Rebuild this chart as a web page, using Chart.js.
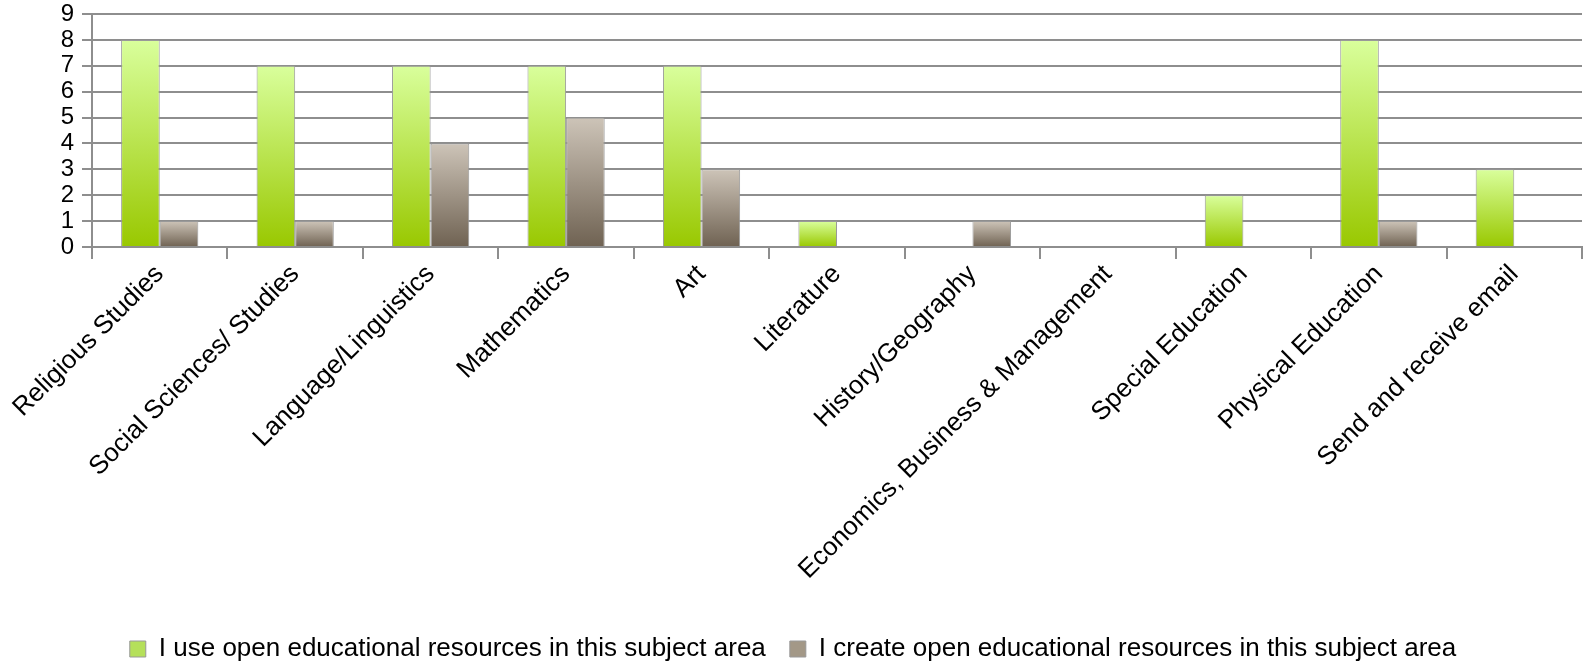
<!DOCTYPE html>
<html>
<head>
<meta charset="utf-8">
<script src="https://cdn.jsdelivr.net/npm/chart.js@4/dist/chart.umd.min.js"></script>
<style>
  html, body { margin: 0; padding: 0; background: #fff; }
  #wrap { width: 1584px; height: 668px; position: relative; }
</style>
</head>
<body>
<div id="wrap"><canvas id="oerChart"></canvas></div>
<script>
// subject areas and counts
const subjects = [
  'Religious Studies', 'Social Sciences/ Studies', 'Language/Linguistics', 'Mathematics', 'Art',
  'Literature', 'History/Geography', 'Economics, Business & Management', 'Special Education',
  'Physical Education', 'Send and receive email'
];
const useValues = [8, 7, 7, 7, 7, 1, 0, 0, 2, 8, 3];
const createValues = [1, 1, 4, 5, 3, 0, 1, 0, 0, 1, 0];
const yTicks = [0, 1, 2, 3, 4, 5, 6, 7, 8, 9];

// each bar gets its own vertical gradient, light at top, dark at the base
function barGradient(top, bottom, fallback) {
  return function (c) {
    const chart = c.chart;
    if (!chart.chartArea || c.raw == null) return fallback;
    const y = chart.scales.y;
    const y0 = y.getPixelForValue(c.raw);
    const y1 = y.getPixelForValue(0);
    if (Math.abs(y1 - y0) < 1) return fallback;
    const g = chart.ctx.createLinearGradient(0, y0, 0, y1);
    g.addColorStop(0, top);
    g.addColorStop(1, bottom);
    return g;
  };
}

const ctx = document.getElementById('oerChart');
new Chart(ctx, {
  type: 'bar',
  data: {
    labels: subjects,
    datasets: [
      {
        label: 'I use open educational resources in this subject area',
        data: useValues,
        backgroundColor: barGradient('#d9ff9c', '#99c800', '#b5e05a'),
        borderColor: '#999999',
        borderWidth: 1
      },
      {
        label: 'I create open educational resources in this subject area',
        data: createValues,
        backgroundColor: barGradient('#cdc4b8', '#6f6252', '#9e9384'),
        borderColor: '#999999',
        borderWidth: 1
      }
    ]
  },
  options: {
    responsive: true,
    maintainAspectRatio: false,
    animation: false,
    // slight negative bottom padding pulls the legend row down to the reference position
    layout: { padding: { top: 14, right: 2, left: 4, bottom: -4 } },
    datasets: { bar: { categoryPercentage: 0.57, barPercentage: 1.0 } },
    plugins: {
      tooltip: { enabled: false },
      legend: {
        position: 'bottom',
        labels: {
          color: '#000',
          font: { family: 'Liberation Sans', size: 26 },
          boxWidth: 16,
          boxHeight: 16,
          padding: 24,
          generateLabels: (chart) => [
            { text: chart.data.datasets[0].label, fillStyle: '#b5e05a', strokeStyle: '#999', lineWidth: 1, datasetIndex: 0 },
            { text: chart.data.datasets[1].label, fillStyle: '#a39887', strokeStyle: '#999', lineWidth: 1, datasetIndex: 1 }
          ]
        }
      }
    },
    scales: {
      x: {
        offset: true,
        afterFit: (axis) => { axis.height = 365; },
        grid: { offset: true, drawOnChartArea: false, drawTicks: true, tickLength: 12, color: '#8e8e8e', lineWidth: 2 },
        border: { display: true, color: '#8e8e8e', width: 2 },
        ticks: {
          color: '#000',
          font: { family: 'Liberation Sans', size: 26 },
          minRotation: 45,
          maxRotation: 45,
          autoSkip: false,
          padding: 0
        }
      },
      y: {
        min: 0,
        max: 9,
        afterBuildTicks: (axis) => { axis.ticks = yTicks.map(v => ({ value: v })); },
        afterFit: (axis) => { axis.width = 88; axis.paddingTop = 0; axis.paddingBottom = 0; },
        grid: { color: '#8e8e8e', lineWidth: 2, drawTicks: true, tickLength: 10 },
        border: { display: true, color: '#8e8e8e', width: 2 },
        ticks: {
          color: '#000',
          font: { family: 'Liberation Sans', size: 24 },
          autoSkip: false,
          padding: 8
        }
      }
    }
  }
});
</script>
</body>
</html>
